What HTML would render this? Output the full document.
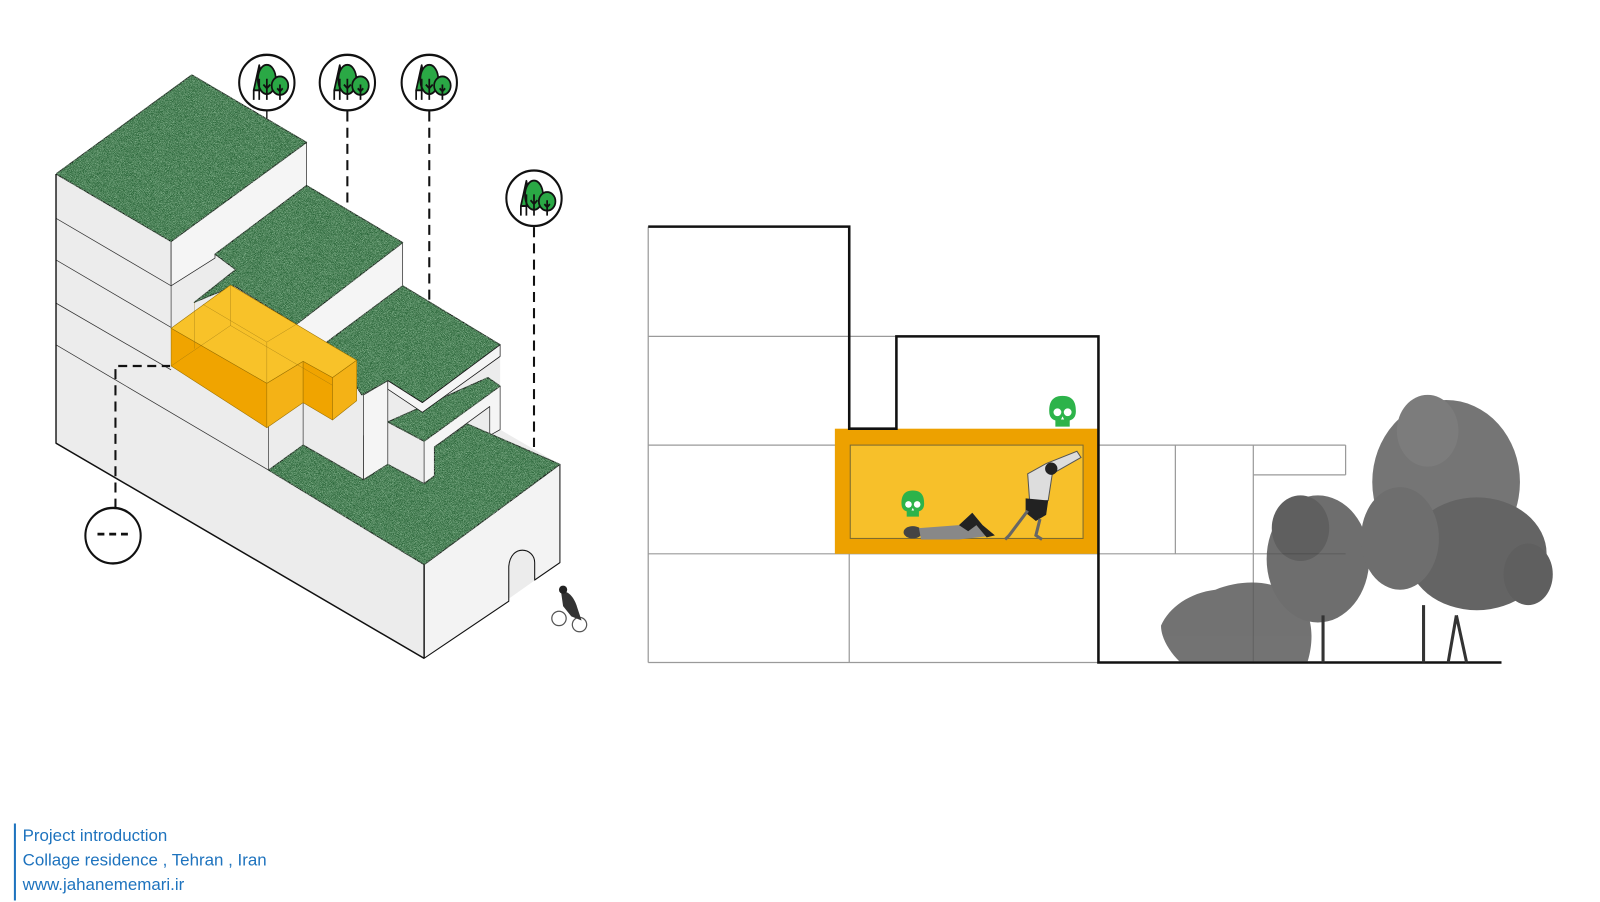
<!DOCTYPE html>
<html><head><meta charset="utf-8"><style>
html,body{margin:0;padding:0;background:#fff;width:1600px;height:902px;overflow:hidden}
svg{display:block}
</style></head><body>
<svg width="1600" height="902" viewBox="0 0 1560 879.5" xmlns="http://www.w3.org/2000/svg">
<defs>
<filter id="tex" x="0" y="0" width="100%" height="100%">
<feTurbulence type="fractalNoise" baseFrequency="0.9" numOctaves="2" seed="3" result="n"/>
<feColorMatrix in="n" type="matrix" values="0 0 0 0 0.35  0 0 0 0 0.65  0 0 0 0 0.4  0 0 0 2.2 -0.95" result="c"/>
<feComposite in="c" in2="SourceGraphic" operator="in" result="t"/>
<feMerge><feMergeNode in="SourceGraphic"/><feMergeNode in="t"/></feMerge>
</filter>
<g id="trees">
<ellipse cx="0" cy="0" rx="80" ry="72" fill="#fff" stroke="#111" stroke-width="6"/>
<polygon points="-38,20 -22,-45 -8,20" fill="#2aa845" stroke="#111" stroke-width="5"/>
<ellipse cx="0" cy="-8" rx="26" ry="38" fill="#2aa845" stroke="#111" stroke-width="5"/>
<circle cx="38" cy="8" r="24" fill="#2aa845" stroke="#111" stroke-width="5"/>
<path d="M-38,20V45 M-22,-10V45 M0,-10V45 M-10,5L0,15L10,5 M38,5V45 M30,15L38,23L46,15" stroke="#111" stroke-width="5" fill="none"/>
</g>
<g id="skull">
<path d="M0,-15 C-12,-15 -13,-6 -13,0 C-13,6 -10,8 -7,9 L-7,15 L7,15 L7,9 C10,8 13,6 13,0 C13,-6 12,-15 0,-15Z" fill="#2db34a"/>
<circle cx="-5" cy="1" r="3.8" fill="#fff"/><circle cx="5" cy="1" r="3.8" fill="#fff"/>
<path d="M-1.5,8 L0,5 L1.5,8Z" fill="#fff"/>
</g>
</defs>

<!-- LEFT ISOMETRIC (zoom coords) -->
<g transform="matrix(0.337,0,0,0.376,39.4,48.56)" stroke-linejoin="round">
<polygon points="45,322 438,65 770,240 770,352 1048,500 1048,612 1330,765 1330,985 1503,1075 1503,1330 1110,1578 45,1020" fill="#ececec"/>
<polygon points="378,497 770,240 770,352 505,530 505,540 378,612" fill="#f5f5f5" stroke="#222" stroke-width="2"/>
<polygon points="740,710 1048,500 1048,612 830,757 760,805" fill="#f5f5f5" stroke="#222" stroke-width="2"/>
<polygon points="1110,1015 1330,872 1330,985 1300,1000 1300,925 1140,1030 1140,1105 1110,1125" fill="#f5f5f5" stroke="#222" stroke-width="2"/>
<polygon points="935,895 1005,858 1005,1075 935,1115" fill="#f5f5f5" stroke="#222" stroke-width="2"/>
<path d="M1110,1335 L1503,1075 L1503,1330 L1430,1375 L1430,1330 C1430,1290 1360,1280 1355,1340 L1355,1430 L1110,1578 Z" fill="#f3f3f3" stroke="#111" stroke-width="3"/>
<g filter="url(#tex)" stroke="#111" stroke-width="3">
<polygon points="438,65 770,240 378,497 45,322" fill="#2f6b3c"/>
<polygon points="505,530 770,352 1048,500 740,712 560,612 445,655 565,570" fill="#2f6b3c"/>
<polygon points="830,757 1048,612 1330,765 1105,915 1005,858 930,895" fill="#2f6b3c"/>
<polygon points="1005,965 1295,850 1330,872 1110,1015" fill="#2f6b3c"/>
<polygon points="660,1090 760,1025 935,1115 1005,1075 1110,1125 1140,1105 1140,1030 1235,970 1503,1075 1110,1335" fill="#2f6b3c"/>
</g>
<polygon points="1105,915 1330,765 1330,795 1105,940 1005,880 1005,858" fill="#f5f5f5" stroke="#111" stroke-width="2"/>
<g stroke="#333" stroke-width="2" fill="none">
<path d="M45,437 L378,612 M45,545 L378,720 M45,657 L378,830"/>
<path d="M45,765 L660,1090 M378,497 V720 M660,870 V1090 M760,808 V1025 M935,1000 V1115"/>
</g>
<path d="M45,322 V1020 L1110,1578 M1110,1335 V1578" stroke="#111" stroke-width="4" fill="none"/>
<polygon points="378,722 550,610 830,760 915,805 845,850 760,808 655,865" fill="#f8c229" stroke="#9a7000" stroke-width="1.5"/>
<polygon points="378,722 655,865 655,980 378,820" fill="#f0a400" stroke="#9a7000" stroke-width="1.5"/>
<polygon points="655,865 760,808 760,915 655,980" fill="#f4b216" stroke="#9a7000" stroke-width="1.5"/>
<polygon points="760,808 845,850 845,960 760,915" fill="#f0a400" stroke="#9a7000" stroke-width="1.5"/>
<polygon points="845,850 915,805 915,910 845,960" fill="#f4b216" stroke="#9a7000" stroke-width="1.5"/>
<path d="M445,655 V775 M550,610 V715 L378,820 M550,715 L845,870 M655,758 V865 M470,660 L655,758 L740,712" stroke="#8a6a10" stroke-width="1.2" fill="none" opacity="0.7"/>
<g stroke="#111" stroke-width="6" stroke-dasharray="26,16" fill="none">
<path d="M888,160 V410"/><path d="M1125,160 V650"/><path d="M1428,460 V1030"/>
<path d="M217,1190 V820 H375"/>
</g>
<path d="M655,158 V178" stroke="#111" stroke-width="4"/>
<use href="#trees" transform="translate(655,85)"/>
<use href="#trees" transform="translate(888,85)"/>
<use href="#trees" transform="translate(1125,85)"/>
<use href="#trees" transform="translate(1428,385)"/>
<ellipse cx="210" cy="1260" rx="80" ry="72" fill="#fff" stroke="#111" stroke-width="6"/>
<path d="M165,1256 H255" stroke="#111" stroke-width="7" stroke-dasharray="20,14"/>
</g>
<!-- cyclist -->
<g transform="translate(553,595)">
<circle cx="-8" cy="8" r="7" fill="none" stroke="#555" stroke-width="1.2"/>
<circle cx="12" cy="14" r="7" fill="none" stroke="#555" stroke-width="1.2"/>
<path d="M-6,-18 C2,-20 8,-10 10,-2 L14,10 L4,6 L-4,-4Z" fill="#333"/>
<circle cx="-4" cy="-20" r="4" fill="#222"/>
</g>

<!-- RIGHT SECTION -->
<g fill="none">
<g stroke="#9a9a9a" stroke-width="1.2">
<path d="M632,328 H1071 M632,434 H1312 M632,540 H1312 M828,328 V646 M632,221 V646 M632,646 H1071 M1146,434 V540 M1222,434 V646 M1312,434 V463 M1222,463 H1312"/>
</g>
<rect x="814" y="418" width="257" height="122" fill="#eda100"/>
<rect x="829" y="434" width="227" height="91" fill="#f7c02a" stroke="#7a6a30" stroke-width="1"/>
<path d="M632,221 H828 V418 H874 V328 H1071 V646 H1464" stroke="#111" stroke-width="2.5"/>
</g>
<use href="#skull" transform="translate(1036,401)"/>
<use href="#skull" transform="translate(890,491) scale(0.85)"/>
<g fill="#444">
<ellipse cx="890" cy="519" rx="9" ry="6"/>
<path d="M896,515 L935,512 L948,500 L958,512 L970,522 L935,526 L898,526Z" fill="#888"/>
<path d="M935,512 L948,500 L958,512 L970,522 L962,524 L952,512 L944,518Z" fill="#222"/>
<path d="M1002,462 L1020,452 L1050,440 L1054,446 L1026,462 L1022,488 L1004,490Z" fill="#ddd" stroke="#555" stroke-width="1"/>
<path d="M1000,486 L1022,488 L1020,502 L1010,508 L1000,500Z" fill="#222"/>
<path d="M1002,498 L984,522 L980,526 M1014,506 L1010,522 L1016,526" stroke="#666" stroke-width="3" fill="none"/>
<circle cx="1025" cy="457" r="6" fill="#222"/>
</g>
<!-- vegetation -->
<g opacity="0.85">
<path d="M1132,610 C1140,592 1160,578 1185,575 C1210,565 1240,565 1262,580 C1280,595 1282,622 1275,645 L1150,645 C1140,635 1132,622 1132,610Z" fill="#5a5a5a"/>
<ellipse cx="1285" cy="545" rx="50" ry="62" fill="#555"/>
<ellipse cx="1268" cy="515" rx="28" ry="32" fill="#444"/>
<ellipse cx="1410" cy="470" rx="72" ry="80" fill="#5e5e5e"/>
<ellipse cx="1392" cy="420" rx="30" ry="35" fill="#666"/>
<ellipse cx="1440" cy="540" rx="68" ry="55" fill="#4a4a4a"/>
<ellipse cx="1365" cy="525" rx="38" ry="50" fill="#555"/>
<ellipse cx="1490" cy="560" rx="24" ry="30" fill="#444"/>
</g>
<path d="M1290,600 V646 M1388,590 V646 M1420,600 L1412,646 M1420,600 L1430,646" stroke="#333" stroke-width="3"/>

<path d="M14.5,803 V878" stroke="#1e73be" stroke-width="2"/>
<g font-family="'Liberation Sans',sans-serif" font-size="16.5" fill="#1e73be">
<text x="22" y="820">Project introduction</text>
<text x="22" y="844">Collage residence , Tehran , Iran</text>
<text x="22" y="868">www.jahanememari.ir</text>
</g>
</svg>
</body></html>
